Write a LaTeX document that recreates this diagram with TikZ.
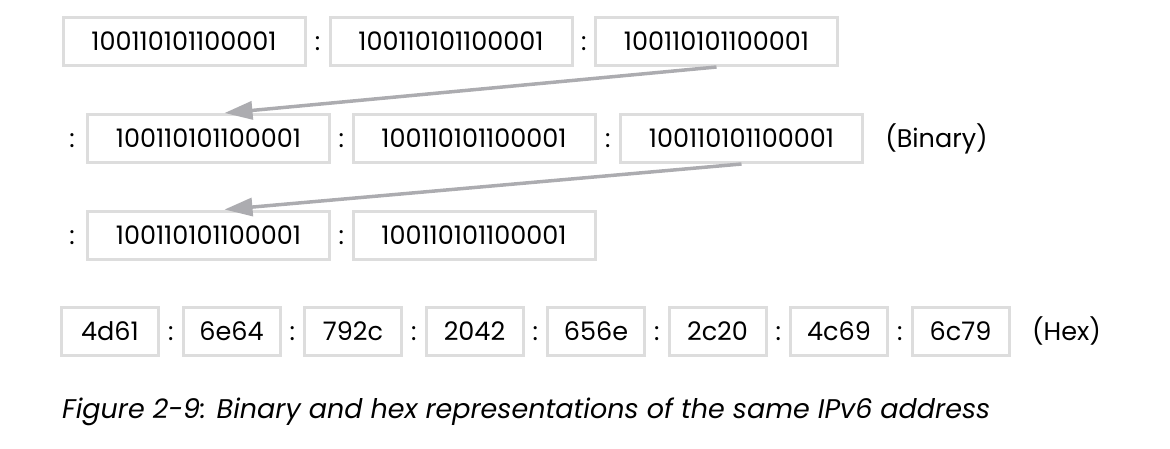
\documentclass[tikz,border=0pt]{standalone}
\usepackage{fontspec}
\setmainfont{Poppins}
\usetikzlibrary{arrows.meta,calc}
\definecolor{boxgray}{RGB}{221,221,221}
\definecolor{arrowgray}{RGB}{172,172,176}
\newcommand{\fieldfont}{\fontsize{25.5}{25.5}\selectfont}
\newcommand{\capfont}{\fontsize{27}{27}\selectfont\itshape}

\begin{document}
\begin{tikzpicture}[x=1pt,y=-1pt,
    field/.style={draw=boxgray,line width=3pt,minimum width=242pt,
      minimum height=48pt,inner sep=0pt,font=\fieldfont},
    hexfield/.style={field,minimum width=97pt},
    sepcolon/.style={anchor=base,inner sep=0pt,font=\fieldfont},
    wrap/.style={draw=arrowgray,line width=3.5pt,
      -{Triangle[length=28pt,width=18pt]}}]
  \useasboundingbox (0,0) rectangle (1170,448);
  % binary, first line
  \node[field] (r1a) at (184,41.5) {100110101100001};
  \node[field] (r1b) at (451,41.5) {100110101100001};
  \node[field] (r1c) at (716.5,41.5) {100110101100001};
  \node[sepcolon] (c1a) at ($(r1a.base east)!0.5!(r1b.base west)$) {:};
  \node[sepcolon] (c1b) at ($(r1b.base east)!0.5!(r1c.base west)$) {:};
  % binary, second line
  \node[field] (r2a) at (208.5,138.5) {100110101100001};
  \node[field] (r2b) at (474,138.5) {100110101100001};
  \node[field] (r2c) at (741.5,138.5) {100110101100001};
  \node[sepcolon] (c2o) at ($(r2a.base west)+(-14,0)$) {:};
  \node[sepcolon] (c2a) at ($(r2a.base east)!0.5!(r2b.base west)$) {:};
  \node[sepcolon] (c2b) at ($(r2b.base east)!0.5!(r2c.base west)$) {:};
  \node[anchor=base,font=\fieldfont] (binary) at ($(r2c.base)+(195,0)$) {(Binary)};
  % binary, third line
  \node[field] (r3a) at (208.5,235) {100110101100001};
  \node[field] (r3b) at (474,235) {100110101100001};
  \node[sepcolon] (c3o) at ($(r3a.base west)+(-14,0)$) {:};
  \node[sepcolon] (c3a) at ($(r3a.base east)!0.5!(r3b.base west)$) {:};
  % line wraps
  \coordinate (w1) at ($(r2a.north)+(16,0)$);
  \coordinate (w2) at ($(r3a.north)+(16,0)$);
  \draw[wrap] (r1c.south) -- (w1);
  \draw[wrap] (r2c.south) -- (w2);
  % hex
  \foreach \i/\v in {0/4d61,1/6e64,2/792c,3/2042,4/656e,5/2c20,6/4c69,7/6c79}
    \node[hexfield] (h\i) at (110+121.5*\i,331.5) {\v};
  \foreach \i [evaluate=\i as \j using int(\i+1)] in {0,...,6}
    \node[sepcolon] at ($(h\i.base east)!0.5!(h\j.base west)$) {:};
  \node[anchor=base,font=\fieldfont] (hex) at ($(h7.base)+(106,0)$) {(Hex)};
  % caption
  \node[anchor=base west,inner sep=0pt,font=\capfont] (caption) at (62,418)
    {Figure 2-9: Binary and hex representations of the same IPv6 address};
\end{tikzpicture}
\end{document}
